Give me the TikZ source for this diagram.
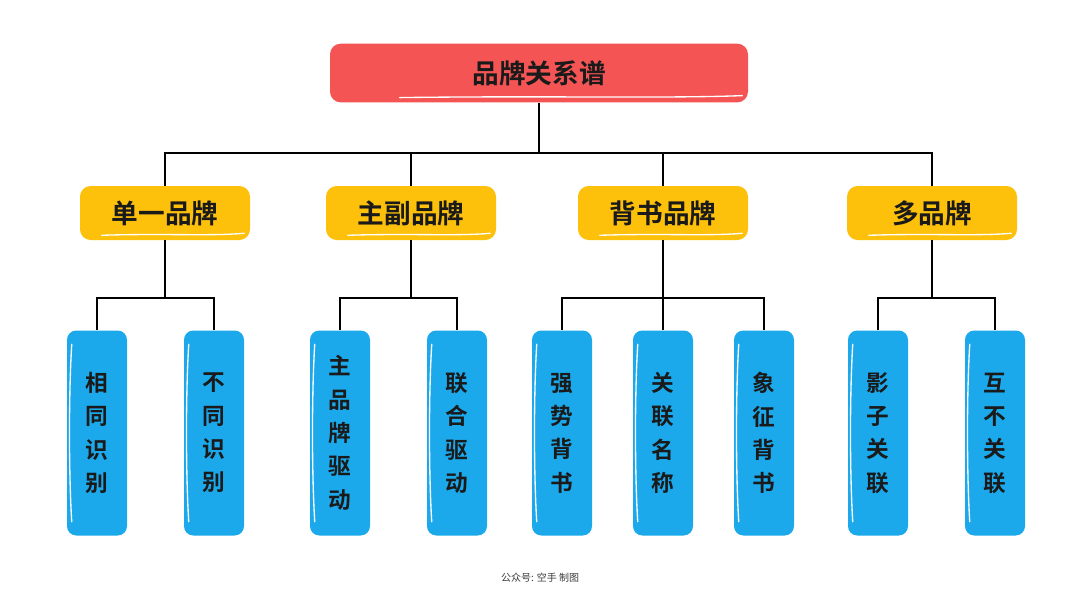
\documentclass[tikz,border=0pt]{standalone}
\usepackage{fontspec}
\usetikzlibrary{calc}
\newfontfamily\cjk[BoldFont={Noto Sans CJK SC Bold}]{Noto Sans CJK SC}
\definecolor{topred}{HTML}{F55454}
\definecolor{midyel}{HTML}{FDC10C}
\definecolor{leafblue}{HTML}{1BA9EC}
\definecolor{txt}{HTML}{1A1A1A}
\tikzset{
  topbox/.style={fill=topred, rounded corners=8pt, minimum width=313.5pt, minimum height=44pt, inner sep=0pt, font=\cjk\bfseries\fontsize{20}{24}\selectfont, text=txt},
  midbox/.style={fill=midyel, rounded corners=8pt, minimum width=127.5pt, minimum height=40.5pt, inner sep=0pt, font=\cjk\bfseries\fontsize{20}{24}\selectfont, text=txt},
  leafbox/.style={fill=leafblue, rounded corners=7pt, minimum width=45pt, minimum height=153.75pt, inner sep=0pt, align=center, font=\cjk\bfseries\fontsize{17}{25}\selectfont, text=txt},
  conn/.style={draw=black, line width=1.6pt},
  shine/.style={draw=white, line width=1pt, line cap=round},
  foot/.style={font=\cjk\fontsize{7.5}{9}\selectfont, text=txt!85}
}
\begin{document}
\begin{tikzpicture}[x=0.75pt, y=-0.75pt]
\useasboundingbox (0,0) rectangle (1080,608);
\fill[white] (0,0) rectangle (1080,608);
% top
\node[topbox] (top) at (539,73) {品牌关系谱};
% level 2
\node[midbox] (m1) at (165,213) {单一品牌};
\node[midbox] (m2) at (411,213) {主副品牌};
\node[midbox] (m3) at (663,213) {背书品牌};
\node[midbox] (m4) at (932,213) {多品牌};
% leaves
\node[leafbox] (a1) at (97,433) {相\\同\\识\\别};
\node[leafbox] (a2) at (214,433) {不\\同\\识\\别};
\node[leafbox] (b1) at (340,433) {主\\品\\牌\\驱\\动};
\node[leafbox] (b2) at (457,433) {联\\合\\驱\\动};
\node[leafbox] (c1) at (562,433) {强\\势\\背\\书};
\node[leafbox] (c2) at (663,433) {关\\联\\名\\称};
\node[leafbox] (c3) at (764,433) {象\\征\\背\\书};
\node[leafbox] (d1) at (878,433) {影\\子\\关\\联};
\node[leafbox] (d2) at (995,433) {互\\不\\关\\联};
% hand-drawn highlights
\draw[shine] ($(top.south west)+(70,-5)$) .. controls ($(top.south)+(0,-7)$) and ($(top.south east)+(-80,-4)$) .. ($(top.south east)+(-6,-7)$);
\foreach \m in {m1,m2,m3,m4}
  \draw[shine] ($(\m.south west)+(22,-5)$) .. controls ($(\m.south)+(0,-7)$) and ($(\m.south east)+(-40,-4)$) .. ($(\m.south east)+(-6,-7)$);
\foreach \l in {a1,a2,b1,b2,c1,c2,c3,d1,d2}
  \draw[shine] ($(\l.north west)+(5,14)$) .. controls ($(\l.west)+(2,-40)$) and ($(\l.west)+(2,40)$) .. ($(\l.south west)+(5,-14)$);
% connectors
\coordinate (j0) at (539,153);
\draw[conn] (top.south) -- (j0);
\foreach \m in {m1,m2,m3,m4} \draw[conn] (\m.north) |- (j0);
\coordinate (ja) at (165,298);
\coordinate (jb) at (411,298);
\coordinate (jc) at (663,298);
\coordinate (jd) at (932,298);
\draw[conn] (m1.south) -- (ja);
\draw[conn] (m2.south) -- (jb);
\draw[conn] (m3.south) -- (jc);
\draw[conn] (m4.south) -- (jd);
\foreach \l in {a1,a2} \draw[conn] (\l.north) |- (ja);
\foreach \l in {b1,b2} \draw[conn] (\l.north) |- (jb);
\foreach \l in {c1,c2,c3} \draw[conn] (\l.north) |- (jc);
\foreach \l in {d1,d2} \draw[conn] (\l.north) |- (jd);
% footer
\node[foot] (f) at (540,578) {公众号: 空手 制图};
\end{tikzpicture}
\end{document}
